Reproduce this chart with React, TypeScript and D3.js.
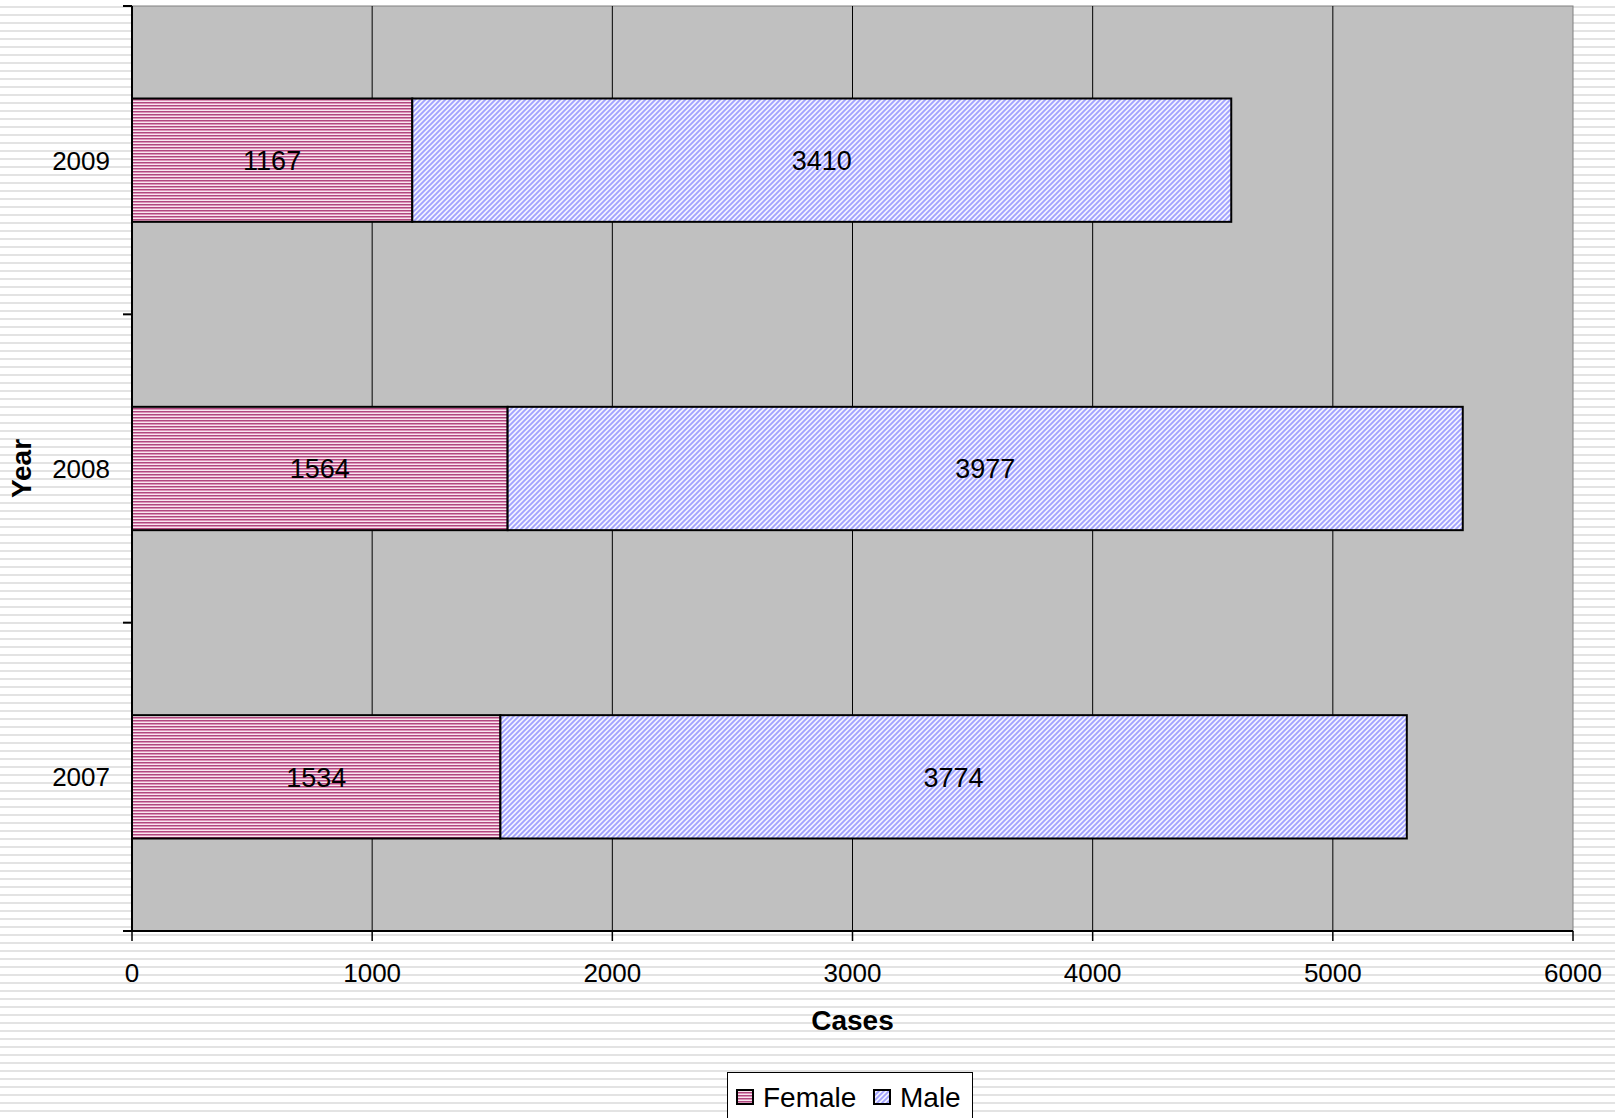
import React from "react";
import * as d3 from "d3";

const years = ["2007", "2008", "2009"];
const female = [1534, 1564, 1167];
const male = [3774, 3977, 3410];
const xTicks = [0, 1000, 2000, 3000, 4000, 5000, 6000];
const seriesNames = ["Female", "Male"];

const W = 1615;
const H = 1118;
const FONT = "Arial, 'Liberation Sans', sans-serif";

export default function App() {
  const left = 132, right = 1573, top = 6, bottom = 931;
  const x = d3.scaleLinear().domain([0, 6000]).range([left, right]);
  // categories from bottom (2007) to top (2009)
  const y = d3.scaleBand().domain([...years].reverse()).range([top, bottom]).paddingInner(0).paddingOuter(0);
  const bw = y.bandwidth();
  const barH = bw * 0.4;
  const boundaries = d3.range(years.length + 1).map((i) => top + i * bw);

  const fills = ["url(#femalePat)", "url(#malePat)"];

  return (
    <div style={{ position: "absolute", left: 0, top: 0, width: W, height: H, overflow: "hidden" }}>
      <svg width={W} height={H} style={{ display: "block" }} fontFamily={FONT}>
        <defs>
          <pattern id="bgPat" width={8} height={8} patternUnits="userSpaceOnUse">
            <rect width={8} height={8} fill="#ffffff" />
            <rect y={6} width={8} height={2} fill="#e3e3e3" />
          </pattern>
          <pattern id="femalePat" width={4} height={3} patternUnits="userSpaceOnUse">
            <rect width={4} height={3} fill="#f8e6ef" />
            <rect y={0} width={4} height={1} fill="#b0487f" />
            <rect y={1} width={4} height={1} fill="#dc92b8" />
          </pattern>
          <pattern id="malePat" width={5} height={5} patternUnits="userSpaceOnUse">
            <rect width={5} height={5} fill="#f4f4ff" />
            <path d="M-1,1 L1,-1 M0,5 L5,0 M4,6 L6,4" stroke="#a2a2ff" strokeWidth={1.9} />
          </pattern>
        </defs>
        <rect width={W} height={H} fill="url(#bgPat)" />

        {/* plot area */}
        <rect x={left} y={top} width={right - left} height={bottom - top} fill="#c0c0c0" stroke="#808080" strokeWidth={1} />
        {xTicks.slice(1, -1).map((t) => (
          <line key={"g" + t} x1={x(t)} x2={x(t)} y1={top} y2={bottom} stroke="#000" strokeWidth={1} />
        ))}

        {/* bars */}
        {years.map((yr, i) => {
          const cy = (y(yr) as number) + bw / 2;
          const y0 = cy - barH / 2;
          const segs = [
            { v0: 0, v1: female[i], val: female[i] },
            { v0: female[i], v1: female[i] + male[i], val: male[i] },
          ];
          return (
            <g key={yr}>
              {segs.map((s, k) => (
                <g key={k}>
                  <rect x={x(s.v0)} y={y0} width={x(s.v1) - x(s.v0)} height={barH} fill={fills[k]} stroke="#000" strokeWidth={2} />
                  <text x={(x(s.v0) + x(s.v1)) / 2} y={cy} dy="0.36em" textAnchor="middle" fontSize={27} fill="#000">
                    {s.val}
                  </text>
                </g>
              ))}
            </g>
          );
        })}

        {/* axes */}
        <line x1={left} x2={left} y1={top} y2={bottom} stroke="#000" strokeWidth={2} />
        <line x1={left} x2={right} y1={bottom} y2={bottom} stroke="#000" strokeWidth={2} />
        {boundaries.map((b, i) => (
          <line key={"yt" + i} x1={left - 9} x2={left} y1={b} y2={b} stroke="#000" strokeWidth={2} />
        ))}
        {xTicks.map((t) => (
          <g key={"xt" + t}>
            <line x1={x(t)} x2={x(t)} y1={bottom} y2={bottom + 10} stroke="#000" strokeWidth={1.5} />
            <text x={x(t)} y={982} textAnchor="middle" fontSize={26} fill="#000">
              {t}
            </text>
          </g>
        ))}
        {years.map((yr) => (
          <text key={"yl" + yr} x={110} y={(y(yr) as number) + bw / 2} dy="0.36em" textAnchor="end" fontSize={26} fill="#000">
            {yr}
          </text>
        ))}

        <text x={(left + right) / 2} y={1030} textAnchor="middle" fontSize={28} fontWeight="bold" fill="#000">
          Cases
        </text>
        <text transform={`translate(21,${(top + bottom) / 2}) rotate(-90)`} dy="0.36em" textAnchor="middle" fontSize={28} fontWeight="bold" fill="#000">
          Year
        </text>

        {/* legend */}
        <rect x={727.5} y={1072.5} width={245} height={60} fill="#fff" stroke="#000" strokeWidth={1} />
        {seriesNames.map((n, k) => {
          const sx = k === 0 ? 737 : 874;
          return (
            <g key={n}>
              <rect x={sx} y={1090} width={16} height={14} fill={fills[k]} stroke="#000" strokeWidth={2} />
              <text x={sx + 26} y={1107} fontSize={28} fill="#000">
                {n}
              </text>
            </g>
          );
        })}
      </svg>
    </div>
  );
}
